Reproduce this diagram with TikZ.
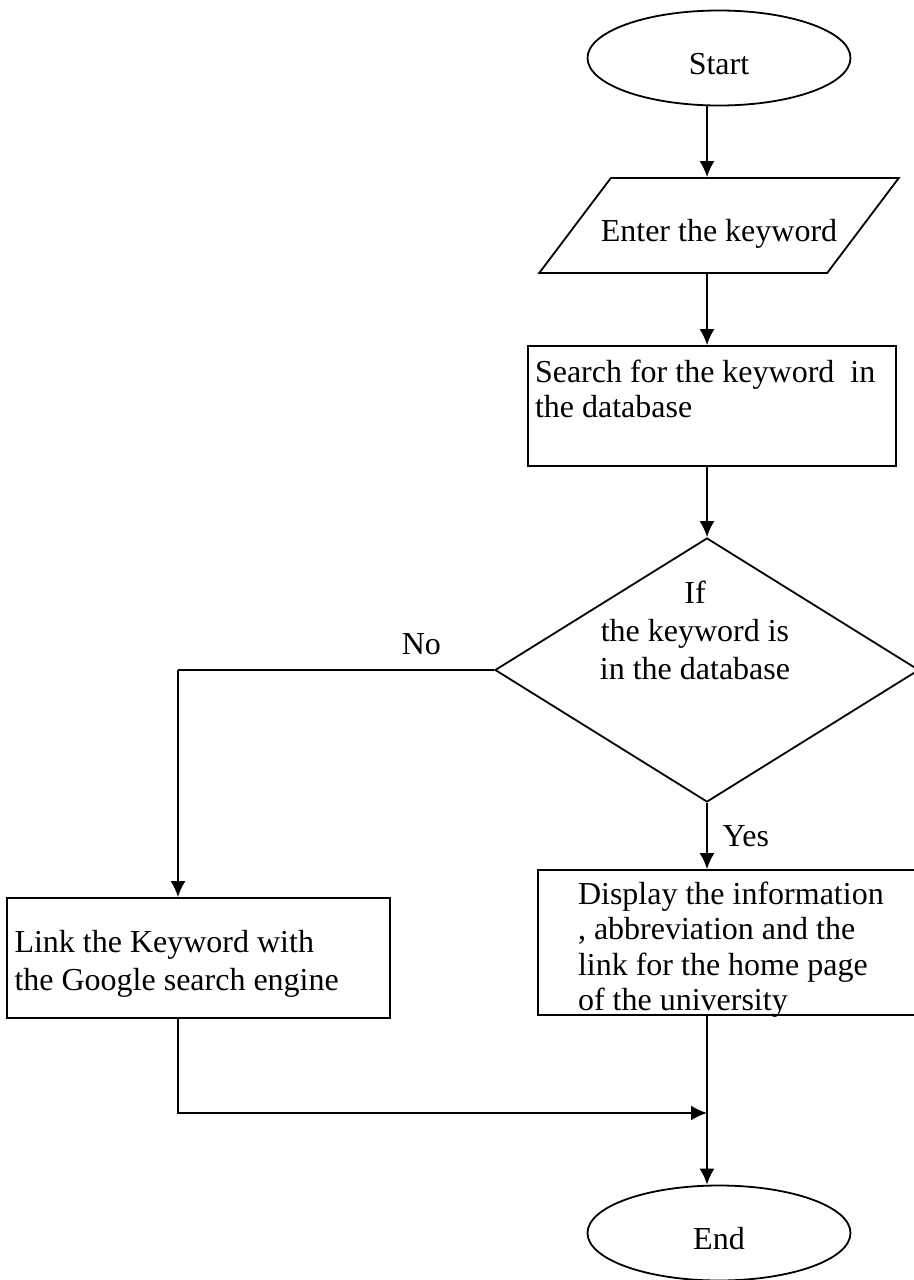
\documentclass[tikz,border=0pt]{standalone}
\usepackage{fontspec}
\setmainfont{Liberation Serif}
\usepackage{tikz}
\usetikzlibrary{shapes.geometric}
\usetikzlibrary{arrows.meta}
\tikzset{
    >={Latex[length=8pt,width=7.5pt]},
    every node/.style={font=\fontsize{16}{19}\selectfont},
    termbox/.style={shape=ellipse, draw=black, minimum width=131.5pt, minimum height=47.5pt,
        inner sep=0pt, text height=18pt, text depth=2pt},
    iobox/.style={shape=trapezium, draw=black, trapezium left angle=53, trapezium right angle=127,
        trapezium stretches body, inner xsep=-5pt, inner ysep=0pt, text height=31.5pt, text depth=16pt},
    procbox/.style={shape=rectangle, draw=black, align=flush left, inner ysep=0pt},
    decbox/.style={shape=diamond, draw=black, minimum width=212pt, minimum height=132pt, inner sep=0pt}}

\begin{document}
\begin{tikzpicture}[x=0.5pt, y=-0.5pt, line width=0.9pt]

                    \useasboundingbox (0,0) rectangle (914,1280);
                    \coordinate (axis) at (707,0);

                    \node[termbox] (start) at (719,58) {Start};
                    \node[iobox] (input) at (719,225.5) {Enter the keyword};
                    \node[procbox, font=\fontsize{16}{17.5}\selectfont, text width=177pt, inner xsep=3.5pt,
                        text height=18pt, text depth=42pt] (search) at (712,406) {Search for the keyword\ \ in\\the database};
                    \node[decbox] (cond) at (707,670) {};
                    \node[align=center] (condtext) at (695,630) {If\\the keyword is\\in the database};
                    \node[procbox, text width=184pt, inner xsep=3.75pt,
                        text height=27pt, text depth=33pt] (google) at (198.5,958) {Link the Keyword with\\the Google search engine};
                    \node[procbox, font=\fontsize{16}{17.75}\selectfont, text width=156pt, inner xsep=20pt,
                        text height=17pt, text depth=55.5pt] (show) at (734,942.5) {Display the information\\, abbreviation and the\\link for the home page\\of the university};
                    \node[termbox] (stop) at (719,1233) {End};

                    \coordinate (nobend) at (178,670);
                    \coordinate (join) at (707,1113);

                    \draw[->] (start.south -| axis) -- (input.north -| axis);
                    \draw[->] (input.south -| axis) -- (search.north -| axis);
                    \draw[->] (search.south -| axis) -- (cond.north);
                    \draw (cond.west) -- (nobend) node[pos=0.23, above=4pt] {No};
                    \draw[->] (nobend) -- (nobend |- google.north);
                    \draw[->] (cond.south) -- (show.north -| cond.south) node[midway, right=4pt] {Yes};
                    \draw[->] (google.south -| nobend) |- (join);
                    \draw[->] (show.south -| axis) -- (stop.north -| axis);

                \end{tikzpicture}
\end{document}
